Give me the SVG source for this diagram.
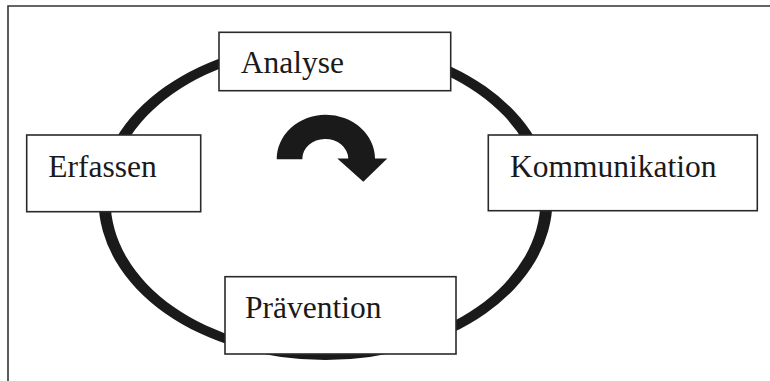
<svg xmlns="http://www.w3.org/2000/svg" width="770" height="381" viewBox="0 0 770 381">
<style>
.box{fill:#fff;stroke:#2a2a2a;stroke-width:1.6}
.lbl{font-family:"Liberation Serif","Times New Roman",serif;font-size:31.5px;fill:#1a1a1a}
.frame{fill:none;stroke:#333;stroke-width:1.6}
</style>
<rect width="770" height="381" fill="#fff"/>
<path class="frame" d="M8 381 V6 H770"/>
<g id="connectors">
<path id="cycle" fill="#1a1a1a" fill-rule="evenodd" d="M98.5 200 A227 160 0 1 0 552.5 200 A227 160 0 1 0 98.5 200 Z M110.5 200 A215 151 0 1 0 540.5 200 A215 151 0 1 0 110.5 200 Z"/>
<path id="curved-arrow" fill="#1a1a1a" d="M276.7 159.3 A49 44 0 0 1 375 158.5 L387.3 158.5 L363.3 181.7 L337.3 158.5 L348.3 158.5 A23 20 0 0 0 302.3 159.3 Z"/>
</g>
<g id="node-analyse">
<rect class="box" x="219" y="32.3" width="231.7" height="58.4"/>
<text class="lbl" x="240.7" y="73.3">Analyse</text>
</g>
<g id="node-erfassen">
<rect class="box" x="26.7" y="135" width="174" height="76.7"/>
<text class="lbl" x="48.3" y="177.3">Erfassen</text>
</g>
<g id="node-kommunikation">
<rect class="box" x="488.3" y="135" width="269" height="75.7"/>
<text class="lbl" x="510" y="176.7">Kommunikation</text>
</g>
<g id="node-praevention">
<rect class="box" x="225" y="276.7" width="231" height="77.3"/>
<text class="lbl" x="245" y="318.3">Prävention</text>
</g>
</svg>
